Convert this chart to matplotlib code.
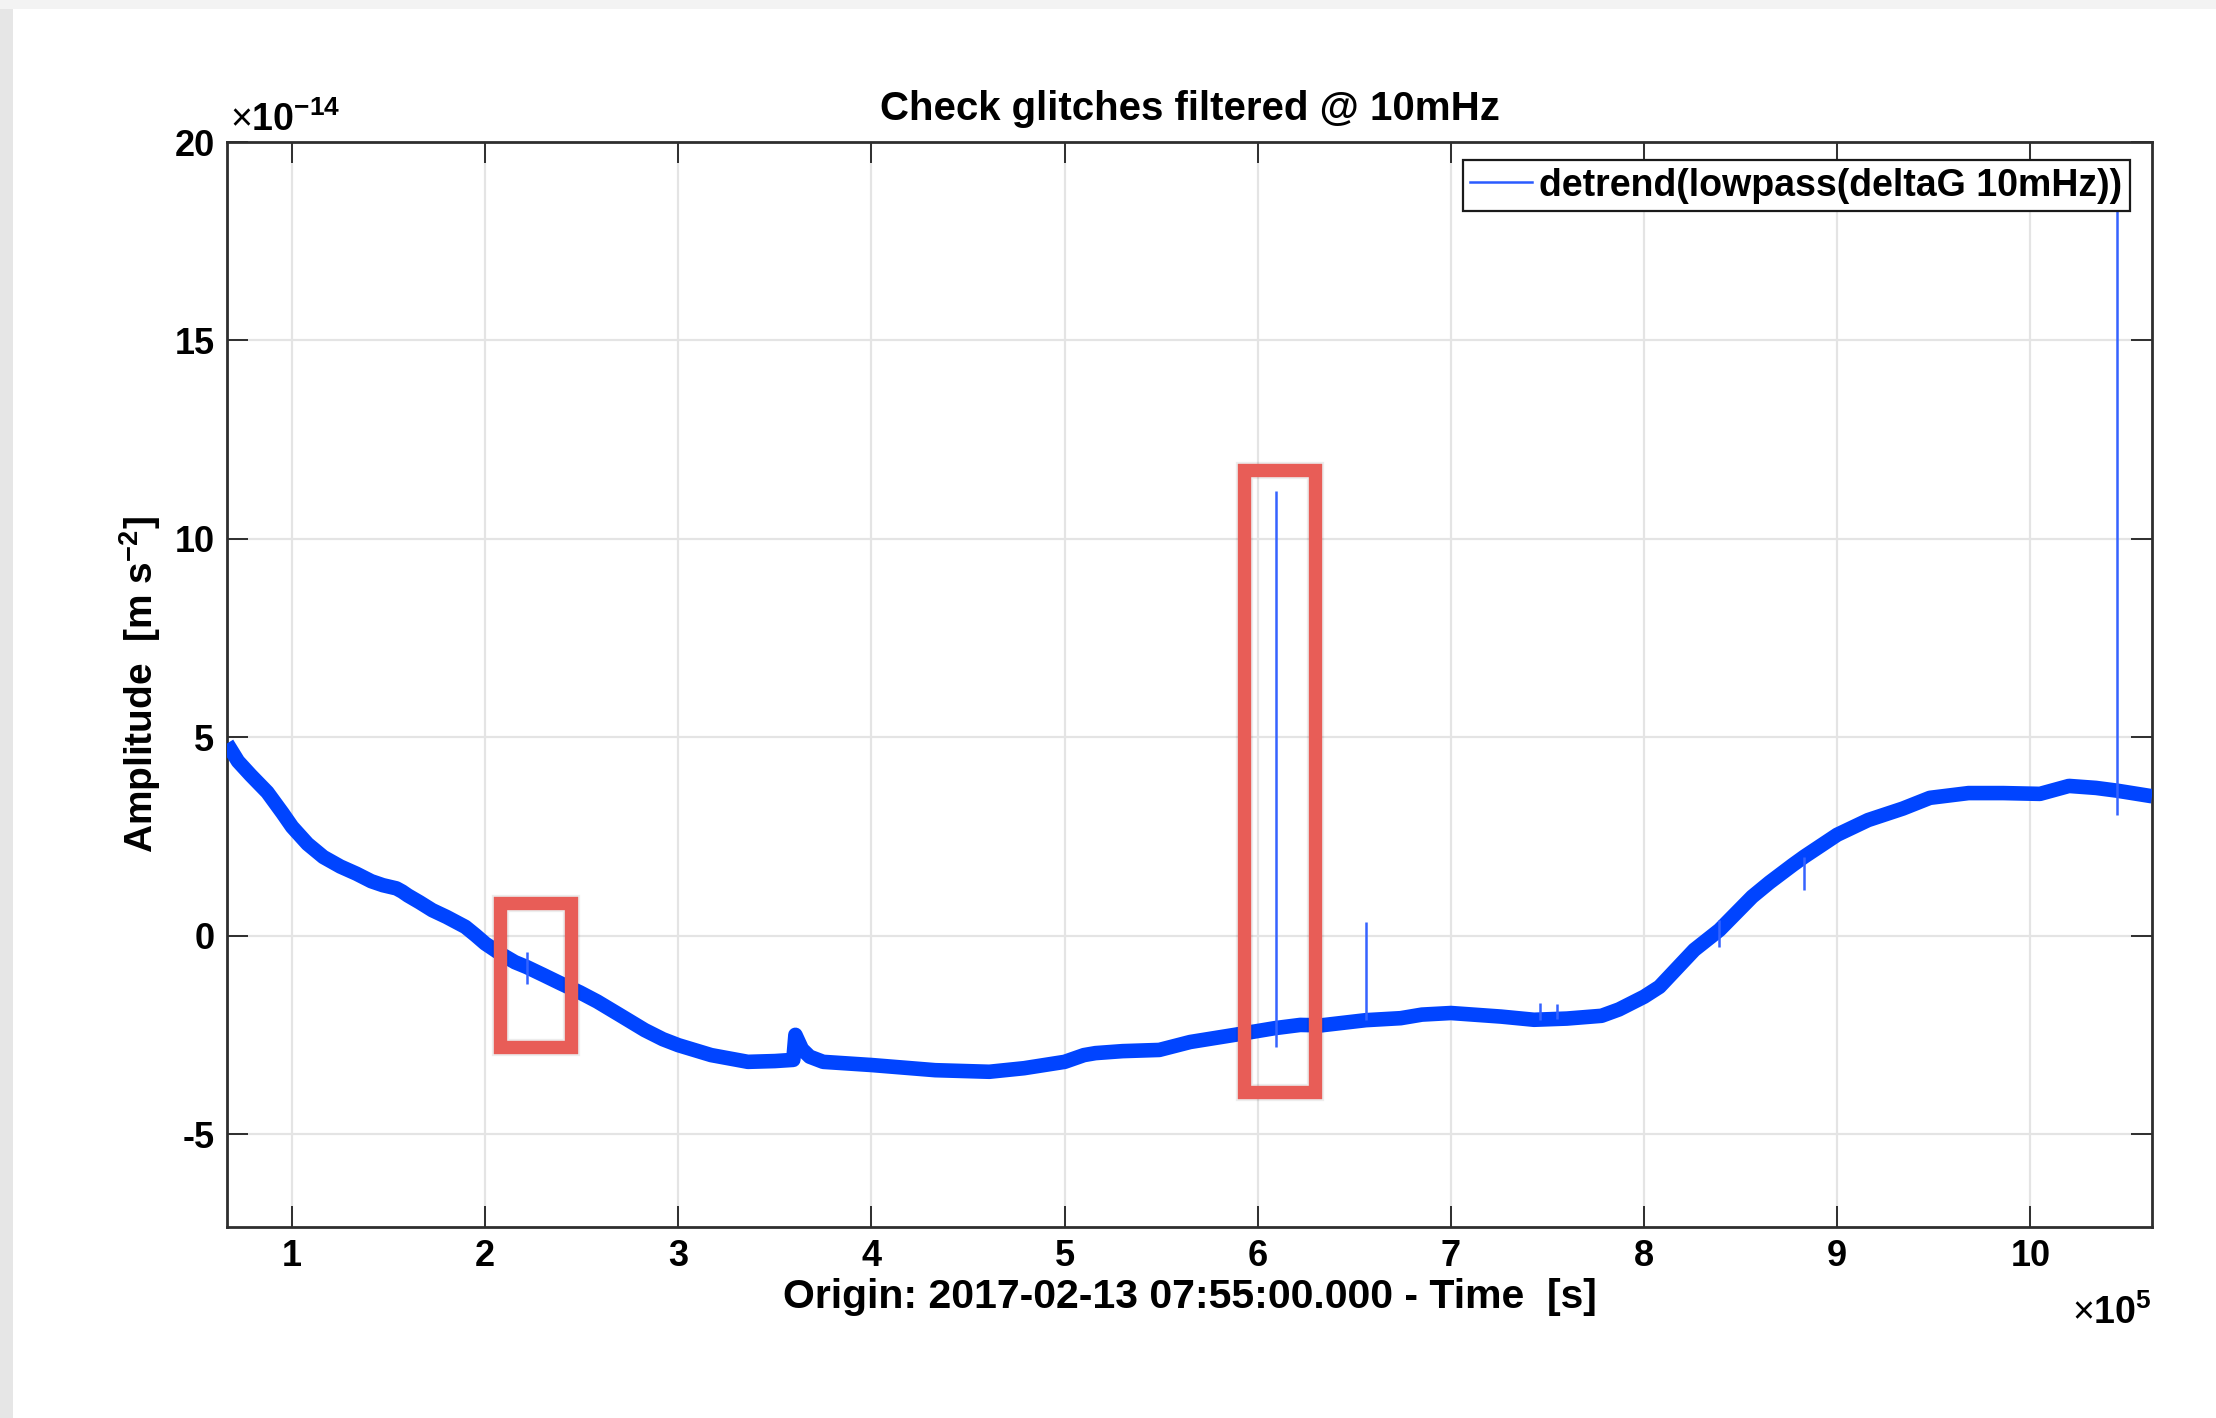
import numpy as np
import matplotlib
matplotlib.use("Agg")
import matplotlib.pyplot as plt
from matplotlib.lines import Line2D
from matplotlib.patches import Rectangle
import matplotlib.patheffects as pe

plt.rcParams['font.family'] = ['Liberation Sans', 'DejaVu Sans']
plt.rcParams['font.weight'] = 'bold'
plt.rcParams['axes.unicode_minus'] = False
plt.rcParams['mathtext.fontset'] = 'custom'
plt.rcParams['mathtext.rm'] = 'Liberation Sans:normal'
plt.rcParams['mathtext.bf'] = 'Liberation Sans:bold'

# time in units of 1e5 s, amplitude in units of 1e-14 m s^-2
time_e5 = [0.663, 0.72, 0.786, 0.872, 0.95, 1.0, 1.08, 1.162, 1.25, 1.333,
           1.41, 1.47, 1.54, 1.57, 1.60, 1.66, 1.726, 1.80, 1.897, 1.95,
           2.0, 2.08, 2.154, 2.214, 2.30, 2.393, 2.49, 2.58, 2.70, 2.826,
           2.92, 3.0, 3.17, 3.36, 3.50, 3.595, 3.606, 3.64, 3.68, 3.75,
           4.0, 4.33, 4.61, 4.79, 5.0, 5.10, 5.16, 5.30, 5.49, 5.65,
           5.88, 6.09, 6.22, 6.33, 6.56, 6.74, 6.85, 7.0, 7.26, 7.43,
           7.60, 7.78, 7.87, 8.0, 8.08, 8.26, 8.39, 8.56, 8.65, 8.77,
           8.83, 9.0, 9.16, 9.34, 9.48, 9.68, 9.86, 10.05, 10.2, 10.34,
           10.45, 10.63]
amp_e14 = [4.85, 4.40, 4.05, 3.62, 3.10, 2.75, 2.32, 1.99, 1.75, 1.57,
           1.38, 1.28, 1.20, 1.12, 1.02, 0.85, 0.65, 0.48, 0.23, 0.02,
           -0.19, -0.45, -0.66, -0.78, -0.98, -1.20, -1.42, -1.65, -2.00, -2.37,
           -2.60, -2.75, -3.00, -3.17, -3.15, -3.12, -2.49, -2.85, -3.04, -3.17,
           -3.25, -3.38, -3.42, -3.33, -3.17, -3.00, -2.95, -2.90, -2.87, -2.67,
           -2.49, -2.32, -2.24, -2.25, -2.12, -2.07, -1.98, -1.94, -2.03, -2.11,
           -2.08, -2.01, -1.85, -1.53, -1.28, -0.35, 0.15, 0.99, 1.35, 1.79,
           2.00, 2.55, 2.92, 3.21, 3.48, 3.60, 3.60, 3.58, 3.78, 3.73,
           3.66, 3.52]

# glitches: time, lowest and highest excursion
glitch_t = [2.214, 6.096, 6.56, 7.46, 7.55, 8.39, 8.83, 10.45]
glitch_lo = [-1.20, -2.79, -2.12, -2.11, -2.08, -0.28, 1.16, 3.05]
glitch_hi = [-0.40, 11.21, 0.35, -1.69, -1.72, 0.41, 2.00, 18.8]

# highlighted regions: t0, t1, a0, a1
box_t0 = [2.076, 5.93]
box_t1 = [2.444, 6.295]
box_a0 = [-2.79, -3.94]
box_a1 = [0.82, 11.74]

W, H = 2216, 1418
fig = plt.figure(figsize=(W / 100, H / 100), dpi=100)
fig.patch.set_facecolor('#f3f3f3')
fig.patches.append(Rectangle((13 / W, 0), 1, (H - 9) / H, transform=fig.transFigure,
                             facecolor='white', edgecolor='none', zorder=-10))
fig.patches.append(Rectangle((0, 0), 13 / W, (H - 9) / H, transform=fig.transFigure,
                             facecolor='#e6e6e6', edgecolor='none', zorder=-10))

ax = fig.add_axes([227 / W, 191 / H, 1925 / W, 1085 / H])
ax.set_facecolor('white')

ax.plot(time_e5, amp_e14, color='#0044ff', lw=10.5, solid_capstyle='butt',
        solid_joinstyle='round', zorder=3)
ax.vlines(glitch_t, glitch_lo, glitch_hi, color='#3563ff', lw=1.8, zorder=4)

ax.set_xlim(0.663, 10.63)
ax.set_ylim(-7.33, 20)
ax.set_xticks(range(1, 11))
ax.set_yticks([-5, 0, 5, 10, 15, 20])
ax.grid(True, color='#e4e4e4', lw=1.6, zorder=0)
ax.set_axisbelow(True)

for s in ax.spines.values():
    s.set_color('#2e2e2e')
    s.set_linewidth(2.0)
ax.tick_params(direction='in', length=15, width=1.4, color='#2e2e2e',
               top=True, right=True, labelsize=26, pad=9)
for lab in ax.get_xticklabels() + ax.get_yticklabels():
    lab.set_fontweight('bold')

ax.set_title('Check glitches filtered @ 10mHz', fontsize=29, fontweight='bold', pad=16)
ax.set_xlabel('Origin: 2017-02-13 07:55:00.000 - Time  [s]', fontsize=29.5, fontweight='bold')
ax.xaxis.set_label_coords(0.5, -0.047)
ax.set_ylabel(r'Amplitude  [m s$^{\mathbf{-2}}$]', fontsize=28, fontweight='bold')
ax.yaxis.set_label_coords(-0.0335, 0.5)

fig.text(230 / W, (H - 131) / H, r'$\times\mathbf{10}^{\mathbf{-14}}$', fontsize=27,
         ha='left', va='baseline')
fig.text(2152 / W, (H - 1324) / H, r'$\times\mathbf{10}^{\mathbf{5}}$', fontsize=27,
         ha='right', va='baseline')

# red frames around the glitches of interest
for t0, t1, a0, a1 in zip(box_t0, box_t1, box_a0, box_a1):
    r = Rectangle((t0, a0), t1 - t0, a1 - a0, fill=False, edgecolor='#e85d57',
                  lw=9.5, joinstyle='miter', zorder=6, clip_on=False)
    r.set_path_effects([pe.withStroke(linewidth=12.5, foreground=(0, 0, 0, 0.07)),
                        pe.Normal()])
    ax.add_patch(r)

handle = Line2D([], [], color='#2a5bff', lw=1.8)
leg = ax.legend([handle], ['detrend(lowpass(deltaG 10mHz))'], loc='upper right',
                bbox_to_anchor=(0.9886, 0.9834), borderaxespad=0, fancybox=False,
                framealpha=1, edgecolor='#1a1a1a', prop={'size': 27, 'weight': 'bold'},
                handlelength=1.65, handletextpad=0.2, borderpad=0.2)
leg.get_frame().set_linewidth(1.6)
leg.set_zorder(10)

fig.savefig('out.png', dpi=100, facecolor=fig.get_facecolor())
